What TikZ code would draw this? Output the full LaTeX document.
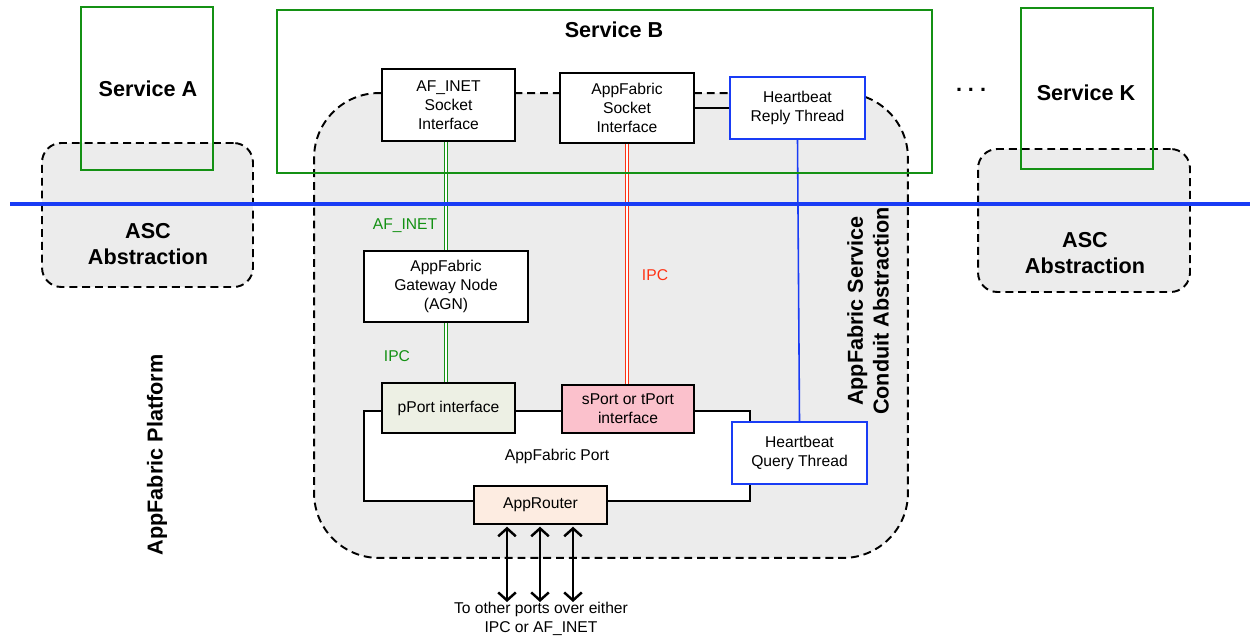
\documentclass[tikz,border=0pt]{standalone}
\usepackage{fontspec}
\setmainfont{Liberation Sans}
\usetikzlibrary{arrows.meta,calc}
\definecolor{svcgreen}{RGB}{20,145,20}
\definecolor{lineblue}{RGB}{25,60,245}
\definecolor{ipcred}{RGB}{255,50,20}
\definecolor{regiongray}{RGB}{236,236,236}
\definecolor{pportfill}{RGB}{237,240,228}
\definecolor{sportfill}{RGB}{251,193,204}
\definecolor{routerfill}{RGB}{253,236,225}
\begin{document}
\begin{tikzpicture}[x=0.02cm,y=-0.02cm,
  bigtext/.style={font=\fontsize{12.3}{14.7}\selectfont\bfseries, align=center, inner sep=0pt},
  smalltext/.style={font=\fontsize{8.9}{10.8}\selectfont, align=center},
  box/.style={draw=black, line width=1.1pt, fill=white, smalltext, inner sep=0pt},
  hbbox/.style={box, draw=lineblue},
  region/.style={draw=black, dash pattern=on 4.5pt off 2.8pt, line width=1.1pt, fill=regiongray, inner sep=0pt},
  service/.style={draw=svcgreen, line width=1.1pt, inner sep=0pt},
  gdouble/.style={draw=svcgreen, double=white, double distance=1.1pt, line width=0.8pt},
  rdouble/.style={draw=ipcred, double=white, double distance=1.1pt, line width=0.8pt},
  dblarrow/.style={{Straight Barb[length=4.5pt,width=10pt]}-{Straight Barb[length=4.5pt,width=10pt]}, line width=1.4pt},
  ]
\useasboundingbox (0,0) rectangle (1250,638);

% regions
\node[region, rounded corners=11pt, minimum width=4.22cm, minimum height=2.88cm] (ascA) at (147.5,215) {};
\node[region, rounded corners=11pt, minimum width=4.24cm, minimum height=2.86cm] (ascK) at (1084,220.5) {};
\node[region, rounded corners=37pt, minimum width=11.88cm, minimum height=9.30cm] (conduit) at (611,325.5) {};

% AppFabric Port
\node[box, minimum width=7.72cm, minimum height=1.80cm] (port) at (557,456) {AppFabric Port};

% boxes
\node[box, minimum width=2.66cm, minimum height=1.44cm] (afinet) at (448.5,105) {AF\_INET\\Socket\\Interface};
\node[box, minimum width=2.68cm, minimum height=1.40cm] (afsock) at (627,108) {AppFabric\\Socket\\Interface};
\node[hbbox, minimum width=2.70cm, minimum height=1.24cm] (hbr) at (797.5,108) {Heartbeat\\Reply Thread};
\node[box, minimum width=3.28cm, minimum height=1.42cm] (agn) at (446,286.5) {AppFabric\\Gateway Node\\(AGN)};
\node[box, fill=pportfill, minimum width=2.66cm, minimum height=1.00cm] (pport) at (448.5,408) {pPort interface};
\node[box, fill=sportfill, minimum width=2.64cm, minimum height=0.96cm] (sport) at (628,409) {sPort or tPort\\interface};
\node[hbbox, minimum width=2.70cm, minimum height=1.24cm] (hbq) at (799.5,453) {Heartbeat\\Query Thread};
\node[box, fill=routerfill, minimum width=2.66cm, minimum height=0.76cm] (router) at (540.5,505) {AppRouter};

% connectors
\draw[gdouble] (agn.north |- afinet.south) -- (agn.north);
\draw[gdouble] (agn.south) -- (agn.south |- pport.north);
\draw[rdouble] (afsock.south) -- (afsock.south |- sport.north);
\draw[draw=lineblue, line width=0.9pt] (hbr.south) -- (hbq.north);
\draw[line width=1.5pt] (afsock.east) -- (hbr.west);

% platform line
\coordinate (bl) at (10,204);
\coordinate (br) at (1250,204);
\draw[draw=lineblue, line width=2pt] (bl) -- (br);

% services
\node[service, minimum width=2.64cm, minimum height=3.26cm] (svcA) at (147,88.5) {};
\node[service, minimum width=13.10cm, minimum height=3.26cm] (svcB) at (604.5,91.5) {};
\node[service, minimum width=2.64cm, minimum height=3.22cm] (svcK) at (1087,88.5) {};

% arrows to other ports
\coordinate (e1) at (507,602);
\coordinate (e2) at (540,602);
\coordinate (e3) at (573,602);
\draw[dblarrow] ([yshift=-1pt]e1 |- router.south) -- (e1);
\draw[dblarrow] ([yshift=-1pt]e2 |- router.south) -- (e2);
\draw[dblarrow] ([yshift=-1pt]e3 |- router.south) -- (e3);

% labels
\node[bigtext] (lA) at (148,89) {Service A};
\node[bigtext] (lB) at (614,30) {Service B};
\node[bigtext] (lK) at (1086,93) {Service K};
\node[bigtext, anchor=base] (dots) at (971,92) {.\ .\ .};
\node[bigtext] (lascA) at (148,244) {ASC\\Abstraction};
\node[bigtext] (lascK) at (1085,253) {ASC\\Abstraction};
\node[bigtext, rotate=90] (lplat) at (157,455) {AppFabric Platform};
\node[bigtext, rotate=90] (lconduit) at (868,311) {AppFabric Service\\Conduit Abstraction};
\node[smalltext, text=svcgreen] (lafinet) at (405,226) {AF\_INET};
\node[smalltext, text=svcgreen] (lipcg) at (397,356) {IPC};
\node[smalltext, text=ipcred] (lipcr) at (655,275) {IPC};
\node[smalltext] (lother) at (541,619) {To other ports over either\\IPC or AF\_INET};
\end{tikzpicture}
\end{document}
